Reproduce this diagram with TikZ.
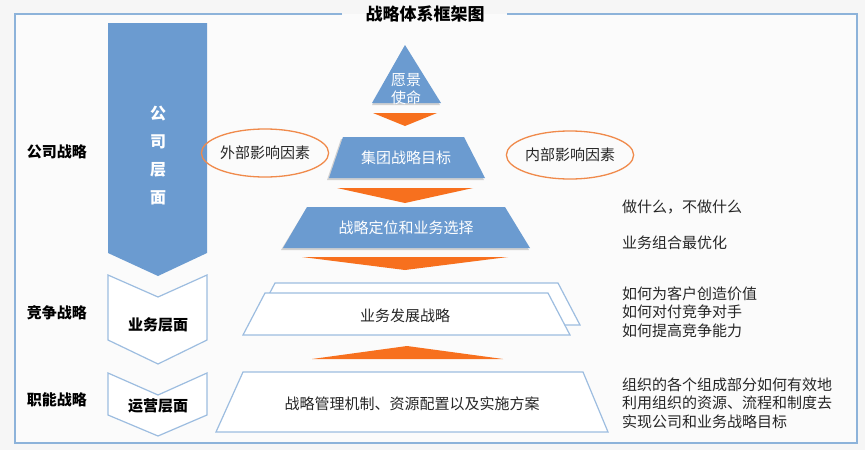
\documentclass[tikz,border=0pt]{standalone}
\usepackage{fontspec}
\setmainfont{Noto Sans CJK SC}
\definecolor{bluefill}{HTML}{6B9BD0}
\definecolor{frameblue}{HTML}{8DB3DA}
\definecolor{lineblue}{HTML}{9DBDE0}
\definecolor{orangefill}{HTML}{F7701E}
\definecolor{ellorange}{HTML}{F08A4B}
\definecolor{bg}{HTML}{F6F6F6}
\definecolor{txt}{HTML}{262626}
\tikzset{
  blueshape/.style={fill=bluefill, draw=none},
  shadowshape/.style={fill=black!35, draw=none, opacity=0.5},
  whiteshape/.style={fill=white, draw=lineblue, line width=1.2pt, line join=miter},
  arrowshape/.style={fill=orangefill, draw=none},
  chevwhite/.style={fill=white, draw=lineblue, line width=1.2pt},
  lbl/.style={font=\fontsize{15}{18}\selectfont, text=txt, inner sep=0pt},
  boldlbl/.style={font=\fontsize{15}{18}\selectfont\bfseries, text=black, inner sep=0pt},
  whitelbl/.style={font=\fontsize{15}{18}\selectfont, text=white, inner sep=0pt},
  ellipselbl/.style={ellipse, draw=ellorange, line width=1.3pt, minimum width=115pt, minimum height=48pt, inner sep=0pt, font=\fontsize{15}{18}\selectfont, text=txt},
  rightlbl/.style={font=\fontsize{15}{18.5}\selectfont, text=txt, inner sep=0pt, anchor=west, align=left},
}
\usetikzlibrary{shapes.geometric}
\begin{document}
\begin{tikzpicture}[x=1pt,y=-1pt]
\useasboundingbox (0,0) rectangle (865,450);
\fill[bg] (0,0) rectangle (865,450);
\fill[white!60!bg] (15,14) rectangle (857,443);
% frame
\draw[frameblue, line width=2pt] (342,14) -- (15,14) -- (15,443) -- (857,443) -- (857,14) -- (507,14);
\node[font=\fontsize{17}{20}\selectfont\bfseries, text=black, inner sep=0pt] (title) at (425,14) {战略体系框架图};

% left chevrons
\fill[blueshape] (108,23) -- (207,23) -- (207,253) -- (158,276) -- (108,253) -- cycle;
\node[font=\fontsize{16}{28}\selectfont\bfseries, text=white, align=center, inner sep=0pt] (gs) at (158,156) {公\\司\\层\\面};
\draw[chevwhite] (108,275) -- (158,297) -- (207,275) -- (207,340) -- (158,364) -- (108,340) -- cycle;
\node[boldlbl] (yw) at (158,325) {业务层面};
\draw[chevwhite] (108,373) -- (158,395) -- (207,373) -- (207,415) -- (158,436) -- (108,415) -- cycle;
\node[boldlbl] (yy) at (158,406) {运营层面};

% left labels
\node[boldlbl] (l1) at (57,152) {公司战略};
\node[boldlbl] (l2) at (57,313) {竞争战略};
\node[boldlbl] (l3) at (57,400) {职能战略};

% pyramid top
\fill[shadowshape] (404,47) -- (440,105) -- (372,105) -- cycle;
\fill[blueshape] (405,45) -- (441,103) -- (372,103) -- cycle;
\node[whitelbl, align=center, font=\fontsize{15}{18}\selectfont] (vm) at (406,89) {愿景\\使命};
\fill[arrowshape] (373,113) -- (437,113) -- (405,126) -- cycle;

% level 2
\fill[shadowshape] (341,139) -- (462,139) -- (484,180) -- (327,180) -- cycle;
\fill[blueshape] (343,137) -- (464,137) -- (485,178) -- (329,178) -- cycle;
\node[whitelbl] (jt) at (406,158) {集团战略目标};
\fill[arrowshape] (337,188) -- (473,188) -- (405,203) -- cycle;

% level 3
\fill[shadowshape] (306,209) -- (504,209) -- (529,250) -- (281,250) -- cycle;
\fill[blueshape] (307,207) -- (505,207) -- (530,248) -- (283,248) -- cycle;
\node[whitelbl] (dw) at (406,228) {战略定位和业务选择};
\fill[arrowshape] (302,257) -- (508,257) -- (405,270) -- cycle;

% level 4 (double)
\draw[whiteshape] (275,283) -- (558,283) -- (580,325) -- (253,325) -- cycle;
\draw[whiteshape] (265,293) -- (548,293) -- (570,335) -- (243,335) -- cycle;
\node[lbl] (fz) at (405,316) {业务发展战略};
\fill[arrowshape] (312,359) -- (503,359) -- (407,346) -- cycle;

% level 5
\draw[whiteshape] (243,372) -- (583,372) -- (608,432) -- (216,432) -- cycle;
\node[lbl] (gl) at (412,404) {战略管理机制、资源配置以及实施方案};

% ellipses
\node[ellipselbl] (wb) at (265,153) {外部影响因素};
\node[ellipselbl] (nb) at (570,155) {内部影响因素};

% right texts
\node[rightlbl] (r1) at (622,207) {做什么，不做什么};
\node[rightlbl] (r2) at (622,243) {业务组合最优化};
\node[rightlbl] (r3) at (622,312) {如何为客户创造价值\\如何对付竞争对手\\如何提高竞争能力};
\node[rightlbl] (r4) at (622,403) {组织的各个组成部分如何有效地\\利用组织的资源、流程和制度去\\实现公司和业务战略目标};
\end{tikzpicture}
\end{document}
